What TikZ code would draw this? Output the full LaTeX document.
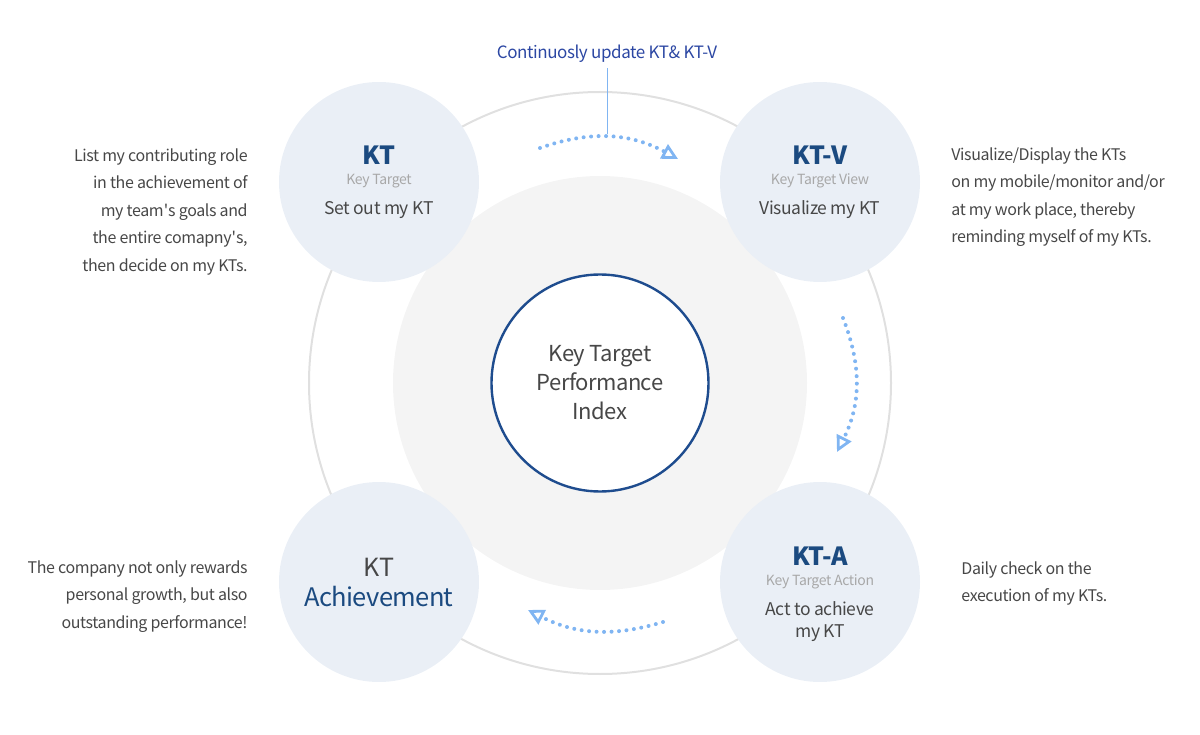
\documentclass[tikz,border=0pt]{standalone}
\usepackage{fontspec}
\setmainfont{Noto Sans CJK KR}[LetterSpace=-2.5]
\usetikzlibrary{calc, arrows.meta}

\definecolor{ringgray}{HTML}{E0E0E0}
\definecolor{diskgray}{HTML}{F4F4F4}
\definecolor{stagefill}{HTML}{EAEFF6}
\definecolor{kpinavy}{HTML}{1E4C8E}
\definecolor{ttlblue}{HTML}{1B4A80}
\definecolor{updblue}{HTML}{2C47A3}
\definecolor{dotblue}{HTML}{80B5F2}
\definecolor{txtgray}{HTML}{474747}
\definecolor{subgray}{HTML}{A8A8A8}

\tikzset{
  stage/.style={circle, fill=stagefill, minimum size=200pt, inner sep=0pt},
  ttl/.style={anchor=base, inner sep=0pt, text=ttlblue, font=\fontsize{25}{25}\selectfont\bfseries},
  sub/.style={anchor=base, inner sep=0pt, text=subgray, font=\fontsize{14}{14}\selectfont},
  main/.style={anchor=base, inner sep=0pt, text=txtgray, font=\fontsize{17.5}{22}\selectfont},
  desc/.style={inner sep=0pt, text=txtgray, font=\fontsize{16}{27.5}\selectfont},
  flow/.style={dotblue, line width=4pt, line cap=round, dash pattern=on 0pt off 7.5pt,
    -{Triangle[open, length=16pt, width=16pt, line width=2.8pt]}},
}

\begin{document}
\begin{tikzpicture}[x=1pt, y=-1pt, thick]
  \useasboundingbox (0,0) rectangle (1200,735);
  \coordinate (O) at (600,383);

  % ring and gray disk
  \draw[ringgray, line width=2pt] (O) circle [radius=291];
  \fill[diskgray] (O) circle [radius=207];

  % center
  \node[circle, draw=kpinavy, line width=2.4pt, fill=white, minimum size=217pt, inner sep=0pt,
    align=center, text=txtgray, font=\fontsize{22}{29}\selectfont] (KTPI) at (O)
    {Key Target\\Performance\\Index};

  % four stages
  \node[stage] (KT)  at (379,182) {};
  \node[stage] (KTV) at (820,182) {};
  \node[stage] (KTA) at (820,582) {};
  \node[stage] (KTAch) at (379,582) {};

  \node[ttl]  (KTt) at ($(KT)+(0,-17)$) {KT};
  \node[sub]  (KTs) at ($(KT)+(0,3)$)   {Key Target};
  \node[main] (KTm) at ($(KT)+(0,33)$)  {Set out my KT};

  \node[ttl]  (KTVt) at ($(KTV)+(0,-17)$) {KT-V};
  \node[sub]  (KTVs) at ($(KTV)+(0,3)$)   {Key Target View};
  \node[main] (KTVm) at ($(KTV)+(0,33)$)  {Visualize my KT};

  \node[ttl]  (KTAt) at ($(KTA)+(0,-17)$) {KT-A};
  \node[sub]  (KTAs) at ($(KTA)+(0,3)$)   {Key Target Action};
  % base of a two-line node sits on its last line
  \node[main, align=center] (KTAm) at ($(KTA)+(0,55)$) {Act to achieve\\my KT};

  \node[anchor=base, inner sep=0pt, text=txtgray, font=\fontsize{25}{25}\selectfont]
    (KTAcht) at ($(KTAch)+(0,-6)$) {KT};
  \node[ttl, font=\fontsize{25.5}{25.5}\selectfont] (KTAchm) at ($(KTAch)+(0,24)$) {Achievement};

  % flow arrows
  \coordinate (peak) at (607,134);
  \draw[flow] (540,148) to[bend left=24] (678,159);
  \draw[flow] (843,318) to[bend left=24] (837,452);
  \draw[flow] (663,622) to[bend left=22] (528,610);

  % top label
  \node[inner sep=0pt, anchor=base, text=updblue, font=\fontsize{17}{17}\selectfont] (upd)
    at (607,59) {Continuosly update KT\& KT-V};
  \draw[dotblue, line width=1pt] ([yshift=-5pt]upd.south) -- (peak);

  % descriptions
  \node[desc, align=right, anchor=north east] (dKT) at (248,148)
    {List my contributing role\\in the achievement of\\my team\textquotesingle s goals and\\the entire comapny\textquotesingle s,\\then decide on my KTs.};
  \node[desc, align=left, anchor=north west] (dKTV) at (951,147)
    {Visualize/Display the KTs\\on my mobile/monitor and/or\\at my work place, thereby\\reminding myself of my KTs.};
  \node[desc, align=right, anchor=north east] (dKTAch) at (248,560)
    {The company not only rewards\\personal growth, but also\\outstanding performance!};
  \node[desc, align=left, anchor=north west] (dKTA) at (961,561)
    {Daily check on the\\execution of my KTs.};
\end{tikzpicture}
\end{document}
